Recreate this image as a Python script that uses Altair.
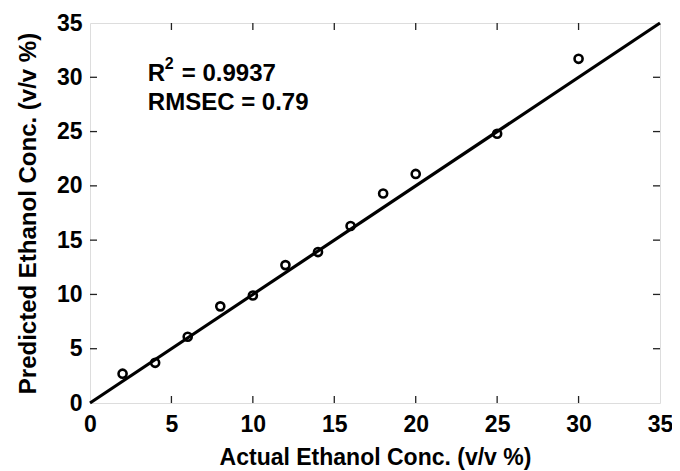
import altair as alt
import pandas as pd

actual = [2, 4, 6, 8, 10, 12, 14, 16, 18, 20, 25, 30]
predicted = [2.7, 3.7, 6.1, 8.9, 9.9, 12.7, 13.9, 16.3, 19.3, 21.1, 24.8, 31.7]
fit_x = [0, 35]
fit_y = [0, 35]
tick_values = [5, 10, 15, 20, 25, 30]
axis_values = [0, 5, 10, 15, 20, 25, 30, 35]
ann_x = 3.55
r2_y = 30.3
rmsec_y = 27.6
r2_value = "= 0.9937"
rmsec_text = "RMSEC = 0.79"

FONT = "Liberation Sans"
W, H = 570, 380

pts = pd.DataFrame({"a": actual, "p": predicted})
fit = pd.DataFrame({"a": fit_x, "p": fit_y})
ticks = pd.DataFrame({"t": tick_values})
ann_r2 = pd.DataFrame({"x": [ann_x], "y": [r2_y]})
ann_rm = pd.DataFrame({"x": [ann_x], "y": [rmsec_y], "label": [rmsec_text]})

xs = alt.Scale(domain=[0, 35], nice=False, zero=False)
ys = alt.Scale(domain=[0, 35], nice=False, zero=False)

x_axis = alt.Axis(values=axis_values, ticks=False, domain=False, grid=False, labelFlush=False,
                  labelFont=FONT, labelFontSize=23, labelFontWeight="bold", labelColor="black",
                  labelPadding=10, title="Actual Ethanol Conc. (v/v %)", titleFont=FONT,
                  titleFontSize=23, titleFontWeight="bold", titleColor="black", titlePadding=10)
y_axis = alt.Axis(values=axis_values, ticks=False, domain=False, grid=False, labelFlush=False,
                  labelFont=FONT, labelFontSize=23, labelFontWeight="bold", labelColor="black",
                  labelPadding=8, title="Predicted Ethanol Conc. (v/v %)", titleFont=FONT,
                  titleFontSize=24, titleFontWeight="bold", titleColor="black", titlePadding=16)

line = alt.Chart(fit).mark_line(color="black", strokeWidth=3.2).encode(
    x=alt.X("a:Q", scale=xs, axis=x_axis),
    y=alt.Y("p:Q", scale=ys, axis=y_axis),
)

points = alt.Chart(pts).mark_point(shape="circle", filled=False, color="black",
                                   strokeWidth=2.6, size=65, opacity=1).encode(
    x=alt.X("a:Q", scale=xs), y=alt.Y("p:Q", scale=ys))

tick_len = 7
tick_style = dict(color="#222", strokeWidth=1.3)
bottom_ticks = alt.Chart(ticks).mark_rule(**tick_style).encode(
    x=alt.X("t:Q", scale=xs), y=alt.value(H), y2=alt.value(H - tick_len))
top_ticks = alt.Chart(ticks).mark_rule(**tick_style).encode(
    x=alt.X("t:Q", scale=xs), y=alt.value(0), y2=alt.value(tick_len))
left_ticks = alt.Chart(ticks).mark_rule(**tick_style).encode(
    y=alt.Y("t:Q", scale=ys), x=alt.value(0), x2=alt.value(tick_len))
right_ticks = alt.Chart(ticks).mark_rule(**tick_style).encode(
    y=alt.Y("t:Q", scale=ys), x=alt.value(W), x2=alt.value(W - tick_len))

txt = dict(align="left", baseline="middle", font=FONT, fontWeight="bold", color="black")
r_text = alt.Chart(ann_r2).mark_text(fontSize=24, text="R", **txt).encode(
    x=alt.X("x:Q", scale=xs), y=alt.Y("y:Q", scale=ys))
sup_text = alt.Chart(ann_r2).mark_text(fontSize=16, text="2", dx=17, dy=-10, **txt).encode(
    x=alt.X("x:Q", scale=xs), y=alt.Y("y:Q", scale=ys))
r2_rest = alt.Chart(ann_r2).mark_text(fontSize=24, text=r2_value, dx=34, **txt).encode(
    x=alt.X("x:Q", scale=xs), y=alt.Y("y:Q", scale=ys))
rm_text = alt.Chart(ann_rm).mark_text(fontSize=24, **txt).encode(
    x=alt.X("x:Q", scale=xs), y=alt.Y("y:Q", scale=ys), text="label:N")

chart = alt.layer(bottom_ticks, top_ticks, left_ticks, right_ticks, line, points,
                  r_text, sup_text, r2_rest, rm_text).properties(
    width=W, height=H,
    autosize=alt.AutoSizeParams(type="none"),
    padding={"left": 82, "top": 15, "right": 12, "bottom": 68},
).configure_view(stroke="#222", strokeWidth=2).configure(background="white")

chart.save("out.html", embed_options={"renderer": "svg", "actions": False})
